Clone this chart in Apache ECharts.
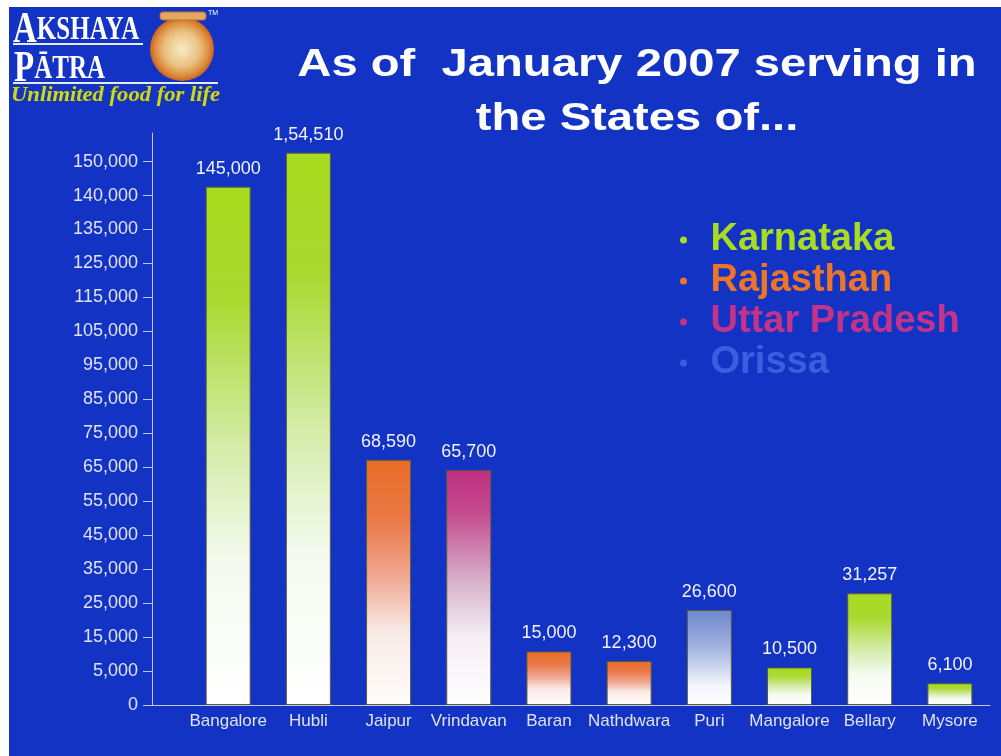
<!DOCTYPE html>
<html>
<head>
<meta charset="utf-8">
<title>Akshaya Patra - January 2007</title>
<script src="https://cdn.jsdelivr.net/npm/echarts@6/dist/echarts.min.js"></script>
<style>
  html, body { margin: 0; padding: 0; background: #ffffff; }
  #chart { width: 1001px; height: 756px; }
</style>
</head>
<body>
<div id="chart"></div>
<script>
const cities = ['Bangalore', 'Hubli', 'Jaipur', 'Vrindavan', 'Baran', 'Nathdwara', 'Puri', 'Mangalore', 'Bellary', 'Mysore']
const values = [145000, 154510, 68590, 65700, 15000, 12300, 26600, 10500, 31257, 6100]
const valueLabels = ['145,000', '1,54,510', '68,590', '65,700', '15,000', '12,300', '26,600', '10,500', '31,257', '6,100']
const cityStates = ['Karnataka', 'Karnataka', 'Rajasthan', 'Uttar Pradesh', 'Rajasthan', 'Rajasthan', 'Orissa', 'Karnataka', 'Karnataka', 'Karnataka']
const states = ['Karnataka', 'Rajasthan', 'Uttar Pradesh', 'Orissa']
const yTickLabels = ['0', '5,000', '15,000', '25,000', '35,000', '45,000', '55,000', '65,000', '75,000',
  '85,000', '95,000', '105,000', '115,000', '125,000', '135,000', '140,000', '150,000']

// the slide spaces its tick labels evenly, one slot each
const yStep = 9500
const FONT = "'Liberation Sans', Arial, sans-serif"
const SERIF = "'Liberation Serif', 'Times New Roman', serif"

const stateColors = ['#a8dc20', '#ee7428', '#c4338a', '#3a5ede']
const stateFades = [
  [{ offset: 0, color: '#a8dc1e' }, { offset: 0.22, color: '#aad930' }, { offset: 0.5, color: '#d4eca8' }, { offset: 0.72, color: '#f4faee' }, { offset: 1, color: '#ffffff' }],
  [{ offset: 0, color: '#e86c26' }, { offset: 0.25, color: '#ea7a48' }, { offset: 0.48, color: '#f0a892' }, { offset: 0.7, color: '#f9eae6' }, { offset: 1, color: '#fffdfb' }],
  [{ offset: 0, color: '#c02f82' }, { offset: 0.18, color: '#c44a8e' }, { offset: 0.48, color: '#d8b4cc' }, { offset: 0.72, color: '#f6f0f6' }, { offset: 1, color: '#fffeff' }],
  [{ offset: 0, color: '#6c86cc' }, { offset: 0.4, color: '#a4b4e0' }, { offset: 0.8, color: '#f4f6fc' }, { offset: 1, color: '#ffffff' }]
]

const chart = echarts.init(document.getElementById('chart'))

const series = states.map((state, s) => ({
  name: state,
  type: 'bar',
  barWidth: 45,
  barGap: '-100%',
  data: cities.map((c, i) => [i, values[i]]).filter((d) => cityStates[d[0]] === state),
  itemStyle: {
    color: new echarts.graphic.LinearGradient(0, 0, 0, 1, stateFades[s]),
    borderColor: '#5a5c3c',
    borderWidth: 1
  },
  label: {
    show: true,
    position: 'top',
    distance: 9,
    color: '#f2f2fa',
    fontSize: 18,
    fontFamily: FONT,
    formatter: (p) => valueLabels[p.data[0]]
  },
  emphasis: { disabled: true }
}))

const logo = [
  {
    type: 'text', left: 13, top: 8, scaleY: 1.35,
    style: {
      text: '{big|A}{small|KSHAYA}',
      fill: '#ffffff',
      rich: {
        big: { fontFamily: SERIF, fontWeight: 'bold', fontSize: 33, fill: '#ffffff' },
        small: { fontFamily: SERIF, fontWeight: 'bold', fontSize: 25, fill: '#ffffff' }
      }
    }
  },
  { type: 'rect', shape: { x: 13, y: 43, width: 130, height: 2 }, style: { fill: '#e8e8f0' } },
  {
    type: 'text', left: 14, top: 47, scaleY: 1.35,
    style: {
      text: '{big|P}{small|ĀTRA}',
      fill: '#ffffff',
      rich: {
        big: { fontFamily: SERIF, fontWeight: 'bold', fontSize: 33, fill: '#ffffff' },
        small: { fontFamily: SERIF, fontWeight: 'bold', fontSize: 25, fill: '#ffffff' }
      }
    }
  },
  { type: 'rect', shape: { x: 13, y: 82, width: 205, height: 2 }, style: { fill: '#e8e8f0' } },
  {
    type: 'text', x: 11, y: 86, scaleX: 1.13,
    style: {
      text: 'Unlimited food for life',
      fontFamily: SERIF, fontStyle: 'italic', fontWeight: 'bold', fontSize: 20,
      fill: '#c8d82a', stroke: '#4a5020', lineWidth: 0.6
    }
  },
  {
    type: 'circle', shape: { cx: 182, cy: 49, r: 32 },
    style: {
      fill: new echarts.graphic.RadialGradient(0.5, 0.5, 0.5, [
        { offset: 0, color: '#f6ecc8' },
        { offset: 0.55, color: '#eac080' },
        { offset: 0.85, color: '#dc8a3a' },
        { offset: 1, color: '#c86420' }
      ])
    }
  },
  { type: 'rect', shape: { x: 160, y: 12, width: 46, height: 8, r: 3 }, style: { fill: '#e2a860', stroke: '#c87030', lineWidth: 1 } },
  { type: 'text', left: 208, top: 10, style: { text: 'TM', fontFamily: FONT, fontSize: 7, fill: '#ffffff' } },
  {
    type: 'text', x: 637, y: 38, scaleX: 1.21, originX: 0,
    style: {
      text: 'As of  January 2007 serving in\nthe States of...',
      align: 'center',
      fill: '#ffffff',
      fontFamily: FONT,
      fontWeight: 'bold',
      fontSize: 39,
      lineHeight: 54
    }
  },
  // white frame along the top and left of the slide
  { type: 'rect', z: 100, shape: { x: 0, y: 0, width: 9, height: 756 }, style: { fill: '#ffffff' } },
  { type: 'rect', z: 100, shape: { x: 0, y: 0, width: 1001, height: 7 }, style: { fill: '#ffffff' } }
]

const option = {
  backgroundColor: '#1233c4',
  animation: false,
  legend: {
    orient: 'vertical',
    left: 675,
    top: 216,
    icon: 'circle',
    itemWidth: 20,
    itemHeight: 7,
    itemGap: 3,
    selectedMode: false,
    itemStyle: { borderWidth: 0 },
    textStyle: {
      fontFamily: FONT,
      fontWeight: 'bold',
      fontSize: 38,
      lineHeight: 38,
      padding: [0, 0, 0, 12]
    },
    data: states.map((state, s) => ({
      name: state,
      itemStyle: { color: stateColors[s], borderWidth: 0 },
      textStyle: { color: stateColors[s] }
    }))
  },
  grid: {
    left: 152,
    right: 11,
    top: 133,
    bottom: 51
  },
  xAxis: {
    type: 'value',
    min: -0.95,
    max: 9.5,
    splitLine: { show: false },
    axisLine: { show: true, onZero: false, lineStyle: { color: '#c0c8e8', width: 1 } },
    axisTick: { show: false },
    axisLabel: {
      customValues: cities.map((c, i) => i),
      formatter: (v) => cities[v] || '',
      color: '#e0e2f0',
      fontFamily: FONT,
      fontSize: 17,
      margin: 8
    }
  },
  yAxis: {
    type: 'value',
    min: 0,
    max: 160000,
    splitLine: { show: false },
    axisLine: { show: true, onZero: false, lineStyle: { color: '#c0c8e8', width: 1 } },
    axisTick: {
      show: true,
      length: 9,
      customValues: yTickLabels.map((t, i) => i * yStep),
      lineStyle: { color: '#c0c8e8' }
    },
    axisLabel: {
      customValues: yTickLabels.map((t, i) => i * yStep),
      formatter: (v) => yTickLabels[Math.round(v / yStep)] || '',
      color: '#e0e2f0',
      fontFamily: FONT,
      fontSize: 18,
      margin: 14
    }
  },
  graphic: logo,
  series: series
}

chart.setOption(option)
</script>
</body>
</html>
